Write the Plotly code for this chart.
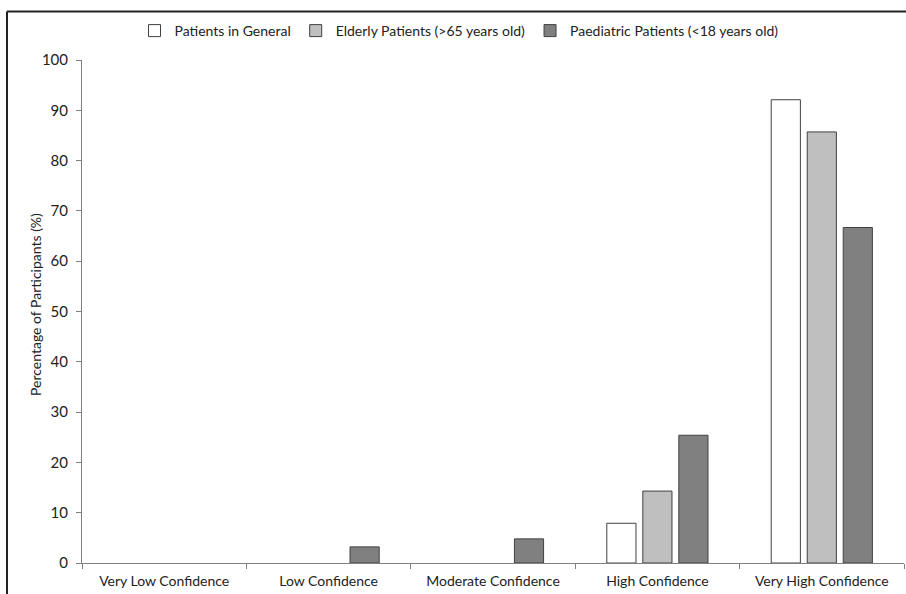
import plotly.graph_objects as go

categories = ["Very Low Confidence", "Low Confidence", "Moderate Confidence",
              "High Confidence", "Very High Confidence"]
general = [0, 0, 0, 7.9, 92.1]
elderly = [0, 0, 0, 14.3, 85.7]
paediatric = [0, 3.2, 4.8, 25.4, 66.7]
series_names = ["Patients in General", "Elderly Patients (>65 years old)",
                "Paediatric Patients (<18 years old)"]
y_ticks = list(range(0, 101, 10))
y_title = "Percentage of Participants (%)"

FONT = "Lato"
colors = ["#FFFFFF", "#BFBFBF", "#808080"]

fig = go.Figure()
for name, vals, col in zip(series_names, [general, elderly, paediatric], colors):
    fig.add_trace(go.Bar(
        x=categories, y=[v if v else None for v in vals], name=name,
        marker=dict(color=col, line=dict(color="#404040", width=1)),
    ))

L, R, T, B = 82, 2, 60, 31
W, H = 906, 594
pw, ph = W - L - R, H - T - B

def px(x):
    return (x - L) / pw

def py(y):
    return (H - B - y) / ph

fig.update_layout(
    width=W, height=H,
    margin=dict(l=L, r=R, t=T, b=B),
    paper_bgcolor="white", plot_bgcolor="white",
    barmode="group", bargap=0.343, bargroupgap=0.19,
    font=dict(family=FONT, size=14, color="#222222"),
    showlegend=True,
    legend=dict(orientation="h", x=px(459), xanchor="center", y=py(31), yanchor="middle",
                font=dict(size=14, family=FONT), itemwidth=30, tracegroupgap=0,
                bgcolor="rgba(0,0,0,0)"),
    xaxis=dict(showgrid=False, showline=True, linecolor="#808080", linewidth=1,
               ticks="outside", tickson="boundaries", ticklen=5, tickcolor="#808080",
               ticklabelstandoff=5,
               tickfont=dict(size=14, family=FONT, color="#222222")),
    yaxis=dict(range=[0, 100], tickvals=y_ticks, showgrid=False, showline=True,
               linecolor="#808080", linewidth=1, ticks="outside", ticklen=5,
               tickcolor="#808080", zeroline=False, ticklabelstandoff=5,
               tickfont=dict(size=15, family=FONT, color="#222222")),
    annotations=[dict(text=y_title, xref="paper", yref="paper", x=px(35), y=py(305),
                      xanchor="center", yanchor="middle", textangle=-90, showarrow=False,
                      font=dict(size=14, family=FONT, color="#222222"))],
    shapes=[
        dict(type="line", xref="paper", yref="paper", x0=px(7), x1=px(7),
             y0=py(11.5), y1=py(600), line=dict(color="#222222", width=2)),
        dict(type="line", xref="paper", yref="paper", x0=px(7), x1=px(910),
             y0=py(11.5), y1=py(11.5), line=dict(color="#222222", width=2)),
    ],
)

fig.write_html("out.html", config={"displayModeBar": False},
               post_script="document.body.style.margin='0';document.body.style.overflow='hidden';")
